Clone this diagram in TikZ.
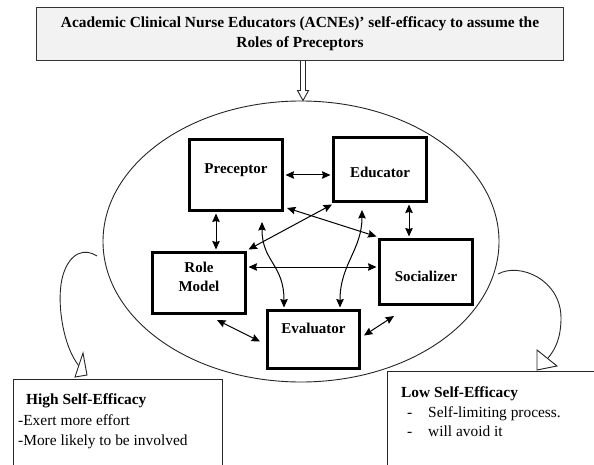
\documentclass[tikz,border=0pt]{standalone}
\usepackage{fontspec}
\setmainfont{Liberation Serif}
\usetikzlibrary{shapes.geometric,arrows.meta,calc}
\begin{document}
\begin{tikzpicture}[x=1pt,y=-1pt,
  rolebox/.style={draw=black, line width=3pt, inner sep=0pt},
  rolefont/.style={font=\fontsize{15}{19}\selectfont\bfseries, inner sep=0pt},
  txt/.style={font=\fontsize{15.4}{20}\selectfont, inner sep=0pt, anchor=base west},
  dar/.style={line width=1pt, {Stealth[length=8.5pt,width=7.5pt,inset=1pt]}-{Stealth[length=8.5pt,width=7.5pt,inset=1pt]}},
  thin/.style={line width=0.9pt, draw=black!85},
  opentip/.style={fill=white, draw=black!85, line width=0.9pt, line join=miter}
]
\fill[white] (0,0) rectangle (594,465);
\useasboundingbox (0,0) rectangle (594,465);

% title
\node[draw=black!80, fill=black!5, line width=1.4pt, minimum width=527pt, minimum height=53pt,
      align=center, font=\fontsize{15.4}{20}\selectfont\bfseries] (title) at (300,34)
  {Academic Clinical Nurse Educators (ACNEs)’ self-efficacy to assume the\\Roles of Preceptors};

% ellipse
\node[draw, ellipse, thin, minimum width=396pt, minimum height=281pt, inner sep=0pt] (ell) at (301,241.5) {};

% hollow arrow
\coordinate (hs) at ($(title.south)+(3,0)$);
\coordinate (he) at (hs |- ell.north);
\draw[opentip] ($(hs)+(-2.5,0)$) -- ($(he)+(-2.5,-10)$) -- ($(he)+(-5.5,-10)$) -- (he)
  -- ($(he)+(5.5,-10)$) -- ($(he)+(2.5,-10)$) -- ($(hs)+(2.5,0)$);

% role boxes
\node[rolebox, minimum width=93pt, minimum height=71pt, label={[rolefont,yshift=5pt]center:Preceptor}] (pre) at (236,175) {};
\node[rolebox, minimum width=93pt, minimum height=64pt, label={[rolefont,yshift=-3pt]center:Educator}] (edu) at (380,169.5) {};
\node[rolebox, minimum width=93pt, minimum height=61pt, label={[rolefont,align=center,yshift=6.5pt]center:Role\\Model}] (rm) at (199,283) {};
\node[rolebox, minimum width=93pt, minimum height=65pt, label={[rolefont,yshift=-4pt]center:Socializer}] (soc) at (426,272) {};
\node[rolebox, minimum width=92pt, minimum height=58pt, label={[rolefont,yshift=11.5pt]center:Evaluator}] (ev) at (313.5,339.5) {};

% connectors
\draw[dar, shorten <=1.5pt, shorten >=1.5pt] (pre.east) -- (pre.east -| edu.west);
\draw[dar, shorten <=1.5pt, shorten >=1.5pt] ([xshift=-20pt]pre.south) -- ([xshift=-20pt]pre.south |- rm.north);
\draw[dar, shorten <=1.5pt, shorten >=1.5pt] ([xshift=29pt]edu.south) -- ([xshift=29pt]edu.south |- soc.north);
\draw[dar] ($(pre.south east)+(3,-4)$) -- ($(soc.north west)+(-1.5,-1.5)$);
\draw[dar] ($(edu.south west)+(0,1.5)$) -- ($(rm.north east)+(1.5,-1.5)$);
\draw[dar, shorten <=1.5pt, shorten >=1.5pt] ([yshift=16pt]rm.east) -- ([yshift=16pt]rm.east -| soc.west);
\draw[dar, shorten >=1.5pt] ($(pre.south)+(26,10)$) .. controls +(0,40) and +(0,-45) .. ($(ev.north)+(-29.5,0)$);
\draw[dar, shorten >=1.5pt] ($(edu.south)+(-18,7)$) .. controls +(0,40) and +(0,-45) .. ($(ev.north)+(26.5,0)$);
\draw[dar] ($(rm.south)+(18,5)$) -- ($(ev.west)+(-6,2)$);
\draw[dar] ($(ev.east)+(3,-4)$) -- ($(soc.south)+(-32,10)$);

% bottom boxes
\node[draw=black!85, line width=0.9pt, minimum width=209pt, minimum height=120pt, inner sep=0pt, anchor=north west] (hi) at (13,379) {};
\node[draw=black!85, line width=0.9pt, minimum width=240pt, minimum height=120pt, inner sep=0pt, anchor=north west] (lo) at (387,371) {};

\node[txt] at ($(hi.north west)+(13,25)$) {\bfseries High Self-Efficacy};
\node[txt] at ($(hi.north west)+(5,46)$) {-Exert more effort};
\node[txt] at ($(hi.north west)+(5,66)$) {-More likely to be involved};

\node[txt] at ($(lo.north west)+(14,26)$) {\bfseries Low Self-Efficacy};
\node[txt] at ($(lo.north west)+(20,46)$) {-};
\node[txt] at ($(lo.north west)+(41,46)$) {Self-limiting process.};
\node[txt] at ($(lo.north west)+(20,65)$) {-};
\node[txt] at ($(lo.north west)+(41,65)$) {will avoid it};

% curved open arrows from the ellipse
\coordinate (ls) at (97,256);
\coordinate (le) at (79,366);
\draw[thin] (ls) .. controls (85,248) and (70,252) .. (63,275) .. controls (56,298) and (62,345) .. (le);
\draw[opentip] (83,353) -- (75,377) -- (87,375) -- cycle;

\coordinate (rs) at (498,274);
\coordinate (re) at (548,358);
\draw[thin] (rs) .. controls (520,262) and (561,280) .. (561,318) .. controls (561,338) and (555,350) .. (re);
\draw[opentip] (537,350) -- (537,370) -- (557,366) -- cycle;
\end{tikzpicture}
\end{document}
